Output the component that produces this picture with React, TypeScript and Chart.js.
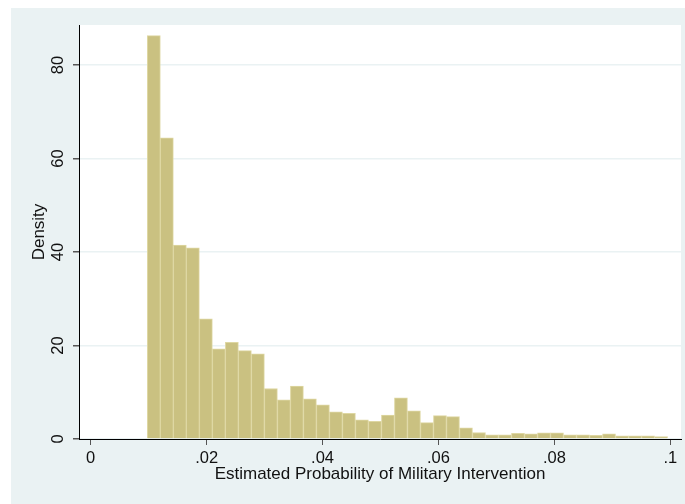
import React, { useEffect, useRef } from "react";
import { Chart, registerables } from "chart.js";

Chart.register(...registerables);

// Histogram bins: first bin's left edge and common bin width
const binStart = 0.00977;
const binWidth = 0.002244;
// Density of each bin
const densities = [
  86.3, 64.4, 41.5, 40.9, 25.7, 19.3, 20.7, 18.9, 18.2, 10.8,
  8.4, 11.3, 8.6, 7.3, 5.8, 5.5, 4.1, 3.8, 5.1, 8.8,
  6.0, 3.5, 5.0, 4.8, 2.4, 1.4, 0.9, 0.9, 1.2, 1.1,
  1.3, 1.3, 0.9, 0.9, 0.8, 1.1, 0.7, 0.7, 0.7, 0.5,
];
const xTickValues = [0, 0.02, 0.04, 0.06, 0.08, 0.1];
const xTickLabels = ["0", ".02", ".04", ".06", ".08", ".1"];
const yTickValues = [0, 20, 40, 60, 80];
const yTickLabels = ["0", "20", "40", "60", "80"];
const xTitle = "Estimated Probability of Military Intervention";
const yTitle = "Density";

const FONT = '"Liberation Sans", Arial, Helvetica, sans-serif';
const BG = "#EAF2F3";

export default function App() {
  const canvasRef = useRef<HTMLCanvasElement | null>(null);

  useEffect(() => {
    document.body.style.margin = "0";
    const canvas = canvasRef.current;
    if (!canvas) return;

    const points = densities.map((d, i) => ({
      x: binStart + (i + 0.5) * binWidth,
      y: d,
    }));

    const bgPlugin = {
      id: "bgPlugin",
      beforeDraw(chart: any) {
        const { ctx, width, height, chartArea: a } = chart;
        ctx.save();
        ctx.fillStyle = BG;
        ctx.fillRect(0, 0, width, height);
        ctx.fillStyle = "#ffffff";
        ctx.fillRect(a.left, a.top, a.right - a.left, a.bottom - a.top);
        ctx.restore();
      },
      afterDraw(chart: any) {
        const ys = chart.scales.y;
        const ctx = chart.ctx;
        ctx.save();
        ctx.font = `16.5px ${FONT}`;
        ctx.fillStyle = "#111111";
        ctx.textAlign = "center";
        ctx.textBaseline = "alphabetic";
        yTickValues.forEach((v, i) => {
          const y = ys.getPixelForValue(v);
          ctx.save();
          ctx.translate(52.4, y);
          ctx.rotate(-Math.PI / 2);
          ctx.fillText(yTickLabels[i], 0, 0);
          ctx.restore();
        });
        ctx.restore();
      },
    };

    const chart = new Chart(canvas, {
      type: "bar",
      data: {
        datasets: [
          {
            data: points as any,
            backgroundColor: "rgb(202,193,129)",
            borderColor: "rgb(222,215,162)",
            borderWidth: 1,
            barPercentage: 1,
            categoryPercentage: 1,
          },
        ],
      },
      options: {
        responsive: false,
        animation: false,
        devicePixelRatio: 1,
        layout: { padding: { left: 0, right: 4, top: 17, bottom: 0 } },
        plugins: {
          legend: { display: false },
          tooltip: { enabled: false },
        },
        scales: {
          x: {
            type: "linear",
            offset: false,
            min: -0.00202,
            max: 0.10185,
            afterBuildTicks: (s: any) => {
              s.ticks = xTickValues.map((v) => ({ value: v }));
            },
            afterFit: (s: any) => {
              s.height = 65;
            },
            ticks: {
              autoSkip: false,
              maxRotation: 0,
              minRotation: 0,
              padding: 4,
              color: "#111111",
              font: { family: FONT, size: 16.5 },
              callback: (_v: any, i: number) => xTickLabels[i],
            },
            grid: {
              offset: false,
              drawOnChartArea: false,
              drawTicks: true,
              tickLength: 6,
              tickColor: "#555555",
            },
            border: { display: true, color: "#000000", width: 1 },
            title: {
              display: true,
              text: xTitle,
              color: "#111111",
              font: { family: FONT, size: 17 },
              padding: { top: 0, bottom: 19.5 },
            },
          },
          y: {
            type: "linear",
            min: 0,
            max: 88.56,
            afterBuildTicks: (s: any) => {
              s.ticks = yTickValues.map((v) => ({ value: v }));
            },
            afterFit: (s: any) => {
              s.width = 68;
            },
            ticks: { display: false },
            grid: {
              color: BG,
              lineWidth: 1.5,
              drawTicks: true,
              tickLength: 6,
              tickColor: "#555555",
            },
            border: { display: true, color: "#000000", width: 1 },
            title: {
              display: true,
              text: yTitle,
              color: "#111111",
              font: { family: FONT, size: 17 },
              padding: { top: 17.8, bottom: 0 },
            },
          },
        },
      },
      plugins: [bgPlugin],
    });

    return () => {
      chart.destroy();
    };
  }, []);

  return (
    <div style={{ margin: "8px 0 0 11px", width: 674, height: 496 }}>
      <canvas
        ref={canvasRef}
        width={674}
        height={496}
        style={{ display: "block", width: 674, height: 496 }}
      />
    </div>
  );
}
